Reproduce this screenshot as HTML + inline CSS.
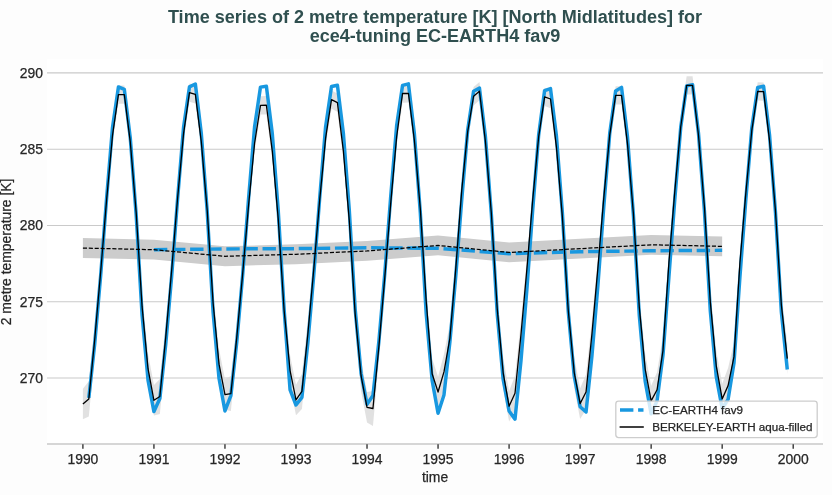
<!DOCTYPE html>
<html><head><meta charset="utf-8"><title>Time series of 2 metre temperature</title>
<style>
html,body{margin:0;padding:0;background:#fdfdfd;}
svg{display:block;will-change:transform;}
.tk{font-family:"Liberation Sans",Arial,sans-serif;font-size:13.9px;fill:#262626;stroke:#262626;stroke-width:0.25px;}
.lg{font-family:"Liberation Sans",Arial,sans-serif;font-size:11.63px;fill:#262626;stroke:#262626;stroke-width:0.25px;}
.ti{font-family:"Liberation Sans",Arial,sans-serif;font-size:18.06px;font-weight:bold;fill:#2f4f4f;}
</style></head><body>
<svg width="832" height="495" viewBox="0 0 832 495">
<rect x="0" y="0" width="832" height="495" fill="#fdfdfd"/>
<rect x="47" y="59" width="776" height="385" fill="#ffffff"/>
<line x1="47" x2="823" y1="378.00" y2="378.00" stroke="#cacaca" stroke-width="1.1"/>
<text x="43" y="383.00" text-anchor="end" class="tk">270</text>
<line x1="47" x2="823" y1="301.73" y2="301.73" stroke="#cacaca" stroke-width="1.1"/>
<text x="43" y="306.73" text-anchor="end" class="tk">275</text>
<line x1="47" x2="823" y1="225.45" y2="225.45" stroke="#cacaca" stroke-width="1.1"/>
<text x="43" y="230.45" text-anchor="end" class="tk">280</text>
<line x1="47" x2="823" y1="149.18" y2="149.18" stroke="#cacaca" stroke-width="1.1"/>
<text x="43" y="154.18" text-anchor="end" class="tk">285</text>
<line x1="47" x2="823" y1="72.90" y2="72.90" stroke="#cacaca" stroke-width="1.1"/>
<text x="43" y="77.90" text-anchor="end" class="tk">290</text>
<line x1="47" x2="823" y1="443.9" y2="443.9" stroke="#c8c8c8" stroke-width="1.5"/>
<line x1="82.90" x2="82.90" y1="444.3" y2="448.8" stroke="#262626" stroke-width="1.3"/>
<text x="82.90" y="464" text-anchor="middle" class="tk">1990</text>
<line x1="153.93" x2="153.93" y1="444.3" y2="448.8" stroke="#262626" stroke-width="1.3"/>
<text x="153.93" y="464" text-anchor="middle" class="tk">1991</text>
<line x1="224.96" x2="224.96" y1="444.3" y2="448.8" stroke="#262626" stroke-width="1.3"/>
<text x="224.96" y="464" text-anchor="middle" class="tk">1992</text>
<line x1="295.99" x2="295.99" y1="444.3" y2="448.8" stroke="#262626" stroke-width="1.3"/>
<text x="295.99" y="464" text-anchor="middle" class="tk">1993</text>
<line x1="367.02" x2="367.02" y1="444.3" y2="448.8" stroke="#262626" stroke-width="1.3"/>
<text x="367.02" y="464" text-anchor="middle" class="tk">1994</text>
<line x1="438.05" x2="438.05" y1="444.3" y2="448.8" stroke="#262626" stroke-width="1.3"/>
<text x="438.05" y="464" text-anchor="middle" class="tk">1995</text>
<line x1="509.08" x2="509.08" y1="444.3" y2="448.8" stroke="#262626" stroke-width="1.3"/>
<text x="509.08" y="464" text-anchor="middle" class="tk">1996</text>
<line x1="580.11" x2="580.11" y1="444.3" y2="448.8" stroke="#262626" stroke-width="1.3"/>
<text x="580.11" y="464" text-anchor="middle" class="tk">1997</text>
<line x1="651.14" x2="651.14" y1="444.3" y2="448.8" stroke="#262626" stroke-width="1.3"/>
<text x="651.14" y="464" text-anchor="middle" class="tk">1998</text>
<line x1="722.17" x2="722.17" y1="444.3" y2="448.8" stroke="#262626" stroke-width="1.3"/>
<text x="722.17" y="464" text-anchor="middle" class="tk">1999</text>
<line x1="793.20" x2="793.20" y1="444.3" y2="448.8" stroke="#262626" stroke-width="1.3"/>
<text x="793.20" y="464" text-anchor="middle" class="tk">2000</text>
<path d="M82.90,238.11 L153.93,239.79 L224.96,246.35 L295.99,244.37 L367.02,241.01 L438.05,235.52 L509.08,242.54 L580.11,238.72 L651.14,234.91 L722.17,236.43 L722.17,256.27 L651.14,254.74 L580.11,258.55 L509.08,262.37 L438.05,255.35 L367.02,260.84 L295.99,264.20 L224.96,266.18 L153.93,259.62 L82.90,257.94 Z" fill="#cccccc" stroke="none"/>
<path d="M82.90,388.83 L88.82,381.36 L94.74,324.76 L100.66,260.54 L106.58,190.97 L112.50,127.06 L118.42,85.41 L124.33,85.41 L130.25,133.16 L136.17,203.42 L142.09,294.46 L148.01,353.47 L153.93,385.02 L159.85,378.92 L165.77,322.41 L171.69,258.28 L177.61,188.81 L183.53,125.44 L189.44,83.43 L195.36,85.26 L201.28,133.25 L207.20,201.07 L213.12,291.02 L219.04,348.92 L224.96,379.37 L230.88,376.02 L236.80,322.65 L242.72,261.67 L248.64,195.34 L254.56,135.11 L260.48,96.24 L266.39,96.09 L272.31,142.98 L278.23,209.71 L284.15,298.55 L290.07,355.36 L295.99,384.71 L301.91,373.88 L307.83,319.79 L313.75,258.07 L319.67,191.00 L325.59,130.05 L331.50,90.44 L337.42,93.49 L343.34,142.37 L349.26,211.08 L355.18,301.91 L361.10,360.70 L367.02,392.03 L372.94,390.97 L378.86,332.24 L384.78,265.88 L390.70,194.18 L396.62,128.58 L402.53,84.34 L408.45,84.19 L414.37,131.88 L420.29,199.39 L426.21,289.03 L432.13,358.47 L438.05,376.78 L443.97,354.35 L449.89,323.84 L455.81,256.72 L461.73,181.18 L467.65,123.46 L473.57,87.09 L479.48,82.05 L485.40,133.00 L491.32,203.79 L497.24,296.69 L503.16,357.56 L509.08,390.97 L515.00,375.71 L520.92,320.70 L526.84,258.07 L532.76,190.09 L538.68,128.21 L544.60,87.70 L550.51,89.83 L556.43,138.71 L562.35,207.42 L568.27,298.25 L574.19,357.04 L580.11,388.37 L586.03,374.49 L591.95,319.42 L597.87,256.72 L603.79,188.69 L609.71,126.75 L615.62,86.17 L621.54,86.17 L627.46,135.23 L633.38,204.12 L639.30,295.13 L645.22,354.11 L651.14,385.63 L657.06,372.20 L662.98,336.05 L668.90,251.38 L674.82,181.82 L680.74,118.36 L686.65,76.26 L692.57,76.26 L698.49,126.90 L704.41,197.38 L710.33,289.98 L716.25,350.54 L722.17,383.64 L728.09,368.08 L734.01,342.15 L739.93,251.29 L745.85,183.74 L751.77,122.30 L757.68,82.21 L763.60,82.51 L769.52,132.00 L775.44,201.32 L781.36,292.76 L787.28,343.37 L787.28,373.88 L781.36,317.16 L775.44,219.62 L769.52,148.78 L763.60,100.82 L757.68,100.51 L751.77,139.08 L745.85,202.05 L739.93,274.17 L734.01,371.14 L728.09,403.17 L722.17,414.15 L716.25,381.05 L710.33,314.39 L704.41,215.69 L698.49,143.68 L692.57,94.56 L686.65,94.56 L680.74,135.14 L674.82,200.13 L668.90,274.27 L662.98,365.03 L657.06,407.29 L651.14,416.14 L645.22,384.62 L639.30,319.54 L633.38,222.43 L627.46,152.01 L621.54,104.48 L615.62,104.48 L609.71,143.53 L603.79,206.99 L597.87,279.61 L591.95,348.41 L586.03,409.58 L580.11,418.88 L574.19,387.55 L568.27,322.65 L562.35,225.72 L556.43,155.49 L550.51,108.14 L544.60,106.00 L538.68,145.00 L532.76,208.39 L526.84,280.95 L520.92,349.69 L515.00,410.80 L509.08,421.48 L503.16,388.07 L497.24,321.10 L491.32,222.09 L485.40,149.79 L479.48,100.36 L473.57,105.39 L467.65,140.24 L461.73,199.49 L455.81,279.61 L449.89,352.83 L443.97,389.44 L438.05,407.29 L432.13,388.98 L426.21,313.44 L420.29,217.70 L414.37,148.66 L408.45,102.49 L402.53,102.65 L396.62,145.36 L390.70,212.48 L384.78,288.76 L378.86,361.22 L372.94,426.05 L367.02,422.54 L361.10,391.21 L355.18,326.32 L349.26,229.39 L343.34,159.15 L337.42,111.80 L331.50,108.75 L325.59,146.83 L319.67,209.31 L313.75,280.95 L307.83,348.77 L301.91,408.97 L295.99,415.22 L290.07,385.87 L284.15,322.96 L278.23,228.01 L272.31,159.76 L266.39,114.39 L260.48,114.55 L254.56,151.89 L248.64,213.64 L242.72,284.55 L236.80,351.64 L230.88,411.10 L224.96,409.88 L219.04,379.43 L213.12,315.42 L207.20,219.38 L201.28,150.03 L195.36,103.56 L189.44,101.73 L183.53,142.22 L177.61,207.11 L171.69,281.16 L165.77,351.40 L159.85,414.00 L153.93,415.53 L148.01,383.98 L142.09,318.87 L136.17,221.73 L130.25,149.94 L124.33,103.72 L118.42,103.72 L112.50,143.84 L106.58,209.28 L100.66,283.42 L94.74,353.74 L88.82,416.44 L82.90,419.34 Z" fill="#d9d9d9" fill-opacity="0.8" stroke="none"/>
<polyline points="88.82,397.83 94.74,343.58 100.66,275.61 106.58,198.48 112.50,127.45 118.42,86.93 124.33,89.38 130.25,137.64 136.17,214.89 142.09,315.03 148.01,380.07 153.93,411.56 159.85,398.44 165.77,344.07 171.69,275.97 177.61,198.72 183.53,127.57 189.44,86.93 195.36,84.04 201.28,133.25 207.20,211.45 213.12,312.53 219.04,378.52 224.96,410.95 230.88,395.54 236.80,341.78 242.72,274.30 248.64,197.66 254.56,127.12 260.48,87.09 266.39,86.17 272.31,133.77 278.23,210.35 284.15,309.81 290.07,389.75 295.99,405.00 301.91,397.37 307.83,343.13 313.75,275.15 319.67,198.02 325.59,126.99 331.50,86.48 337.42,85.26 343.34,132.91 349.26,209.55 355.18,309.08 361.10,373.52 367.02,404.39 372.94,395.54 378.86,341.45 384.78,273.63 390.70,196.65 396.62,125.77 402.53,85.41 408.45,83.88 414.37,133.58 420.29,212.27 426.21,313.84 432.13,380.32 438.05,413.24 443.97,394.93 449.89,342.12 455.81,275.58 461.73,199.88 467.65,130.29 473.57,91.21 479.48,88.16 485.40,136.54 491.32,213.92 497.24,314.17 503.16,379.34 509.08,410.95 515.00,419.19 520.92,361.40 526.84,289.89 532.76,209.22 538.68,134.65 544.60,90.60 550.51,88.61 556.43,136.06 562.35,212.48 568.27,311.79 574.19,376.02 580.11,406.68 586.03,412.02 591.95,355.76 597.87,285.77 603.79,206.63 609.71,133.58 615.62,91.05 621.54,87.39 627.46,136.51 633.38,214.62 639.30,315.61 645.22,381.51 651.14,413.85 657.06,400.88 662.98,355.12 668.90,277.01 674.82,199.06 680.74,127.21 686.65,85.87 692.57,84.65 698.49,133.25 704.41,210.84 710.33,311.31 716.25,376.69 722.17,408.51 728.09,399.36 734.01,362.75 739.93,276.77 745.85,199.46 751.77,128.25 757.68,87.54 763.60,86.32 769.52,134.59 775.44,211.84 781.36,311.98 787.28,369.46" fill="none" stroke="#1898e0" stroke-width="3.47" stroke-linejoin="round"/>
<polyline points="153.93,249.71 224.96,248.94 295.99,248.64 367.02,247.72 438.05,248.33 509.08,253.67 580.11,251.69 651.14,250.77 722.17,250.32" fill="none" stroke="#1898e0" stroke-width="3.47" stroke-dasharray="13.4 4.7"/>
<polyline points="82.90,404.09 88.82,398.90 94.74,339.25 100.66,271.98 106.58,200.13 112.50,135.45 118.42,94.56 124.33,94.56 130.25,141.55 136.17,212.57 142.09,306.67 148.01,368.72 153.93,400.27 159.85,396.46 165.77,336.90 171.69,269.72 177.61,197.96 183.53,133.83 189.44,92.58 195.36,94.41 201.28,141.64 207.20,210.23 213.12,303.22 219.04,364.18 224.96,394.63 230.88,393.56 236.80,337.15 242.72,273.11 248.64,204.49 254.56,143.50 260.48,105.39 266.39,105.24 272.31,151.37 278.23,218.86 284.15,310.76 290.07,370.62 295.99,399.97 301.91,391.42 307.83,334.28 313.75,269.51 319.67,200.16 325.59,138.44 331.50,99.60 337.42,102.65 343.34,150.76 349.26,220.23 355.18,314.11 361.10,375.96 367.02,407.29 372.94,408.51 378.86,346.73 384.78,277.32 390.70,203.33 396.62,136.97 402.53,93.49 408.45,93.34 414.37,140.27 420.29,208.55 426.21,301.24 432.13,373.73 438.05,392.03 443.97,371.90 449.89,338.34 455.81,268.16 461.73,190.33 467.65,131.85 473.57,96.24 479.48,91.21 485.40,141.39 491.32,212.94 497.24,308.89 503.16,372.81 509.08,406.22 515.00,393.25 520.92,335.19 526.84,269.51 532.76,199.24 538.68,136.60 544.60,96.85 550.51,98.99 556.43,147.10 562.35,216.57 568.27,310.45 574.19,372.29 580.11,403.63 586.03,392.03 591.95,333.91 597.87,268.16 603.79,197.84 609.71,135.14 615.62,95.32 621.54,95.32 627.46,143.62 633.38,213.28 639.30,307.34 645.22,369.37 651.14,400.88 657.06,389.75 662.98,350.54 668.90,262.82 674.82,190.97 680.74,126.75 686.65,85.41 692.57,85.41 698.49,135.29 704.41,206.53 710.33,302.18 716.25,365.80 722.17,398.90 728.09,385.63 734.01,356.64 739.93,262.73 745.85,192.90 751.77,130.69 757.68,91.36 763.60,91.66 769.52,140.39 775.44,210.47 781.36,304.96 787.28,358.63" fill="none" stroke="#000" stroke-width="1.3" stroke-linejoin="round"/>
<polyline points="82.90,248.03 153.93,249.71 224.96,256.27 295.99,254.28 367.02,250.93 438.05,245.43 509.08,252.45 580.11,248.64 651.14,244.82 722.17,246.35" fill="none" stroke="#000" stroke-width="1.25" stroke-dasharray="4.11 1.78"/>
<rect x="615.8" y="401.2" width="201.4" height="36.4" rx="2.8" ry="2.8" fill="#ffffff" fill-opacity="0.8" stroke="#cdcdcd" stroke-width="1.3"/>
<line x1="620" x2="643.5" y1="410.1" y2="410.1" stroke="#1898e0" stroke-width="3.47" stroke-dasharray="13.4 4.7"/>
<line x1="619.6" x2="643.8" y1="427.0" y2="427.0" stroke="#000" stroke-width="1.5"/>
<text x="652.2" y="414" class="lg">EC-EARTH4 fav9</text>
<text x="652.2" y="430.7" class="lg">BERKELEY-EARTH aqua-filled</text>
<text x="435" y="22.8" text-anchor="middle" class="ti">Time series of 2 metre temperature [K] [North Midlatitudes] for</text>
<text x="435" y="41.8" text-anchor="middle" class="ti">ece4-tuning EC-EARTH4 fav9</text>
<text x="435" y="481.7" text-anchor="middle" class="tk">time</text>
<text transform="translate(11.3,251.9) rotate(-90)" x="0" y="0" text-anchor="middle" class="tk">2 metre temperature [K]</text>
</svg>
</body></html>
